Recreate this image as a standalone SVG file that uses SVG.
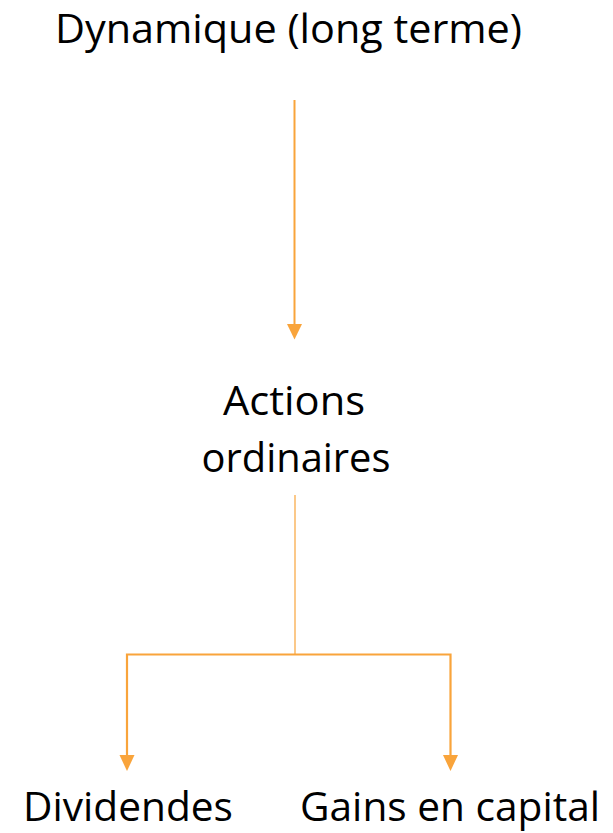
<svg xmlns="http://www.w3.org/2000/svg" width="613" height="833" viewBox="0 0 613 833">
<style>
.t{font-family:"Open Sans","Liberation Sans",sans-serif;font-size:40px;fill:#000;text-anchor:middle}
.c{stroke:#F9A43B;fill:none}
.h{fill:#F9A43B}
</style>
<rect width="613" height="833" fill="#fff"/>
<g id="connectors">
<line class="c" x1="294.5" y1="100" x2="294.5" y2="326" stroke-width="2"/>
<polygon class="h" points="287,324 302,324 294.5,339.5"/>
<line class="c" x1="295" y1="495" x2="295" y2="654" stroke-width="1.2"/>
<polyline class="c" points="127,757 127,654.5 450.5,654.5 450.5,757" stroke-width="2.2"/>
<polygon class="h" points="119.5,755 134.5,755 127,771"/>
<polygon class="h" points="443,755 458,755 450.5,771"/>
</g>
<g id="node-dynamique"><text class="t" x="288.5" y="43" textLength="467" lengthAdjust="spacingAndGlyphs">Dynamique (long terme)</text></g>
<g id="node-actions"><text class="t" x="294" y="415" textLength="142" lengthAdjust="spacingAndGlyphs">Actions</text><text class="t" x="296" y="471.5" textLength="189" lengthAdjust="spacingAndGlyphs">ordinaires</text></g>
<g id="node-dividendes"><text class="t" x="128" y="821" textLength="210" lengthAdjust="spacingAndGlyphs">Dividendes</text></g>
<g id="node-gains"><text class="t" x="450" y="821" textLength="300" lengthAdjust="spacingAndGlyphs">Gains en capital</text></g>
</svg>
